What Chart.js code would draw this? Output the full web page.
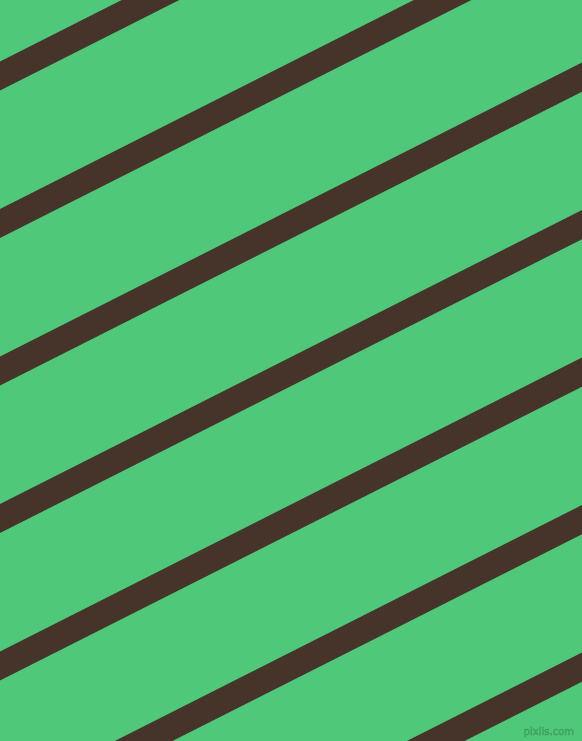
<!DOCTYPE html>
<html>
<head>
<meta charset="utf-8">
<script src="https://cdn.jsdelivr.net/npm/chart.js@4/dist/chart.umd.min.js"></script>
<style>
  html, body { margin: 0; padding: 0; background: #4fc979; }
  #wrap { position: relative; width: 582px; height: 741px; overflow: hidden; }
  #stripes { display: block; }
  #mark {
    position: absolute; right: 8px; bottom: 4px;
    font-family: "DejaVu Sans", sans-serif; font-size: 10px;
    color: #4fc979; -webkit-text-stroke: 0.6px #3d9a5c; letter-spacing: 0;
  }
</style>
</head>
<body>
<div id="wrap">
  <canvas id="stripes" width="582" height="741"></canvas>
  <div id="mark">pixlis.com</div>
</div>
<script>
// the stripes run a bit past both edges so their square ends stay hidden
const xEnds = [-60, 642];
const leftY = [106.3, 253.8, 401.3, 548.8, 696.3, 843.8, 991.3];
const rightY = [-248.2, -100.7, 46.8, 194.3, 341.8, 489.3, 636.8];

const stripeColor = '#46332a';

document.addEventListener('DOMContentLoaded', () => {
    const datasets = leftY.map((y0, i) => ({
        data: [{ x: xEnds[0], y: y0 }, { x: xEnds[1], y: rightY[i] }],
        borderColor: stripeColor,
        borderWidth: 26,
        pointRadius: 0,
        fill: false,
        tension: 0
    }));

    const ctx = document.getElementById('stripes').getContext('2d');
    new Chart(ctx, {
        type: 'line',
        data: { datasets: datasets },
        options: {
            responsive: false,
            animation: false,
            layout: { padding: 0 },
            plugins: { legend: { display: false }, tooltip: { enabled: false } },
            scales: {
                x: { type: 'linear', min: 0, max: 582, display: false },
                y: { type: 'linear', min: 0, max: 741, reverse: true, display: false }
            }
        }
    });
});
</script>
</body>
</html>
